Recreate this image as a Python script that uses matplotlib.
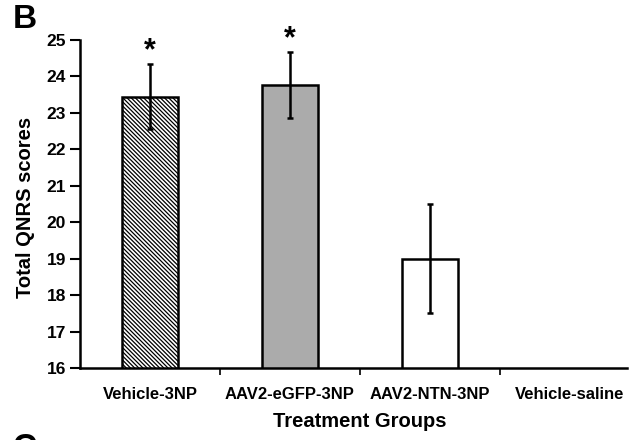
import numpy as np
import matplotlib
matplotlib.use("Agg")
import matplotlib.pyplot as plt

groups = ["Vehicle-3NP", "AAV2-eGFP-3NP", "AAV2-NTN-3NP", "Vehicle-saline"]
scores = [23.45, 23.76, 19.0, np.nan]
errors = [0.88, 0.91, 1.5, np.nan]
signif = ["*", "*", "", ""]

plt.rcParams["font.family"] = ["Liberation Sans", "DejaVu Sans"]
plt.rcParams["font.weight"] = "bold"
plt.rcParams["hatch.linewidth"] = 0.9

fig = plt.figure(figsize=(6.3, 4.4), dpi=100)
ax = fig.add_axes([0.127, 0.1636, 0.868, 0.7454])

x = np.arange(len(groups))
faces = ["white", "#ababab", "white", "white"]
hatches = ["\\" * 8, "", "", ""]
bars = ax.bar(x, scores, width=0.4, bottom=0, color=faces, edgecolor="black",
              linewidth=1.8, zorder=2)
for b, h in zip(bars, hatches):
    b.set_hatch(h)
ax.errorbar(x, scores, yerr=errors, fmt="none", ecolor="black", elinewidth=1.8,
            capsize=2.5, capthick=1.8, zorder=3)
for xi, s, e, t in zip(x, scores, errors, signif):
    if t:
        ax.text(xi, s + e + 0.36, t, ha="center", va="center", fontsize=22,
                fontweight="bold")

ax.set_ylim(16, 25)
ax.set_xlim(-0.5, 3.41)
ax.set_yticks(range(16, 26))
ax.set_xticks(x)
ax.set_xticklabels(groups, fontsize=12, fontweight="bold")
ax.set_xticks(np.arange(0.5, 3.0, 1.0), minor=True)
ax.tick_params(axis="x", which="major", length=0, pad=14)
ax.tick_params(axis="x", which="minor", length=5, width=1.2, direction="out")
ax.tick_params(axis="y", length=7, width=1.5, direction="out", labelsize=12.5, pad=3)
for lbl in ax.get_yticklabels():
    lbl.set_fontweight("bold")

ax.spines["top"].set_visible(False)
ax.spines["right"].set_visible(False)
ax.spines["left"].set_linewidth(1.8)
ax.spines["bottom"].set_linewidth(1.8)

ax.set_xlabel("Treatment Groups", fontsize=14.5, fontweight="bold")
ax.xaxis.set_label_coords(0.512, -0.133)
ax.set_ylabel("Total QNRS scores", fontsize=14.5, fontweight="bold")
ax.yaxis.set_label_coords(-0.082, 0.49)

fig.text(0.02, 0.955, "B", fontsize=24, fontweight="bold", va="center")
fig.text(0.02, -0.02, "C", fontsize=24, fontweight="bold", va="center")

fig.savefig("out.png", dpi=100)
